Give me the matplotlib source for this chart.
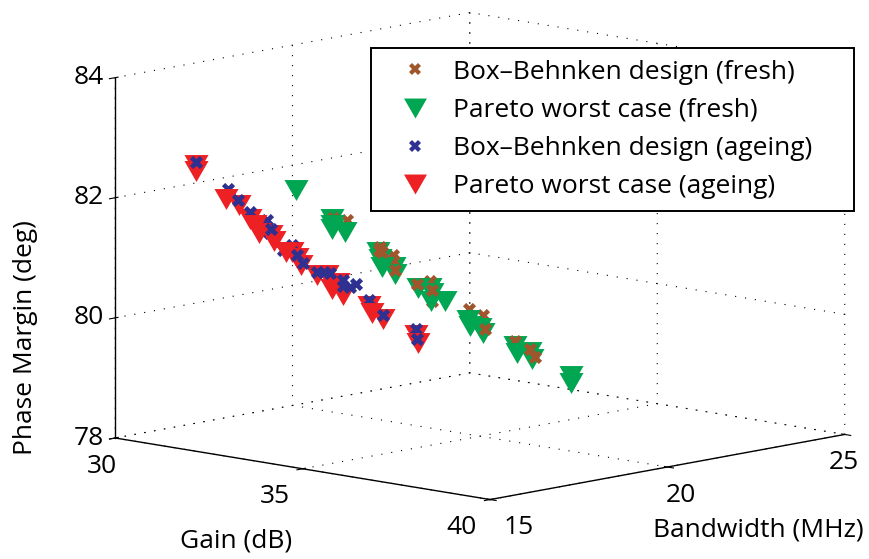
"""Pareto front in 3D: gain, bandwidth and phase margin, fresh vs ageing"""

import numpy as np
import matplotlib
matplotlib.use('Agg')
import matplotlib.pyplot as plt

plt.rcParams['font.family'] = ['Open Sans', 'DejaVu Sans']
plt.rcParams['grid.linestyle'] = (0, (1, 8))
plt.rcParams['grid.color'] = 'black'
plt.rcParams['grid.linewidth'] = 0.8

# bandwidth can't be read from one projection, so each group sits at one estimated depth
bw_fresh = 19.0
bw_ageing = 17.0

# === Pareto worst case (fresh) ===
gain_pareto_fresh_back = [31.99, 33.23, 33.66, 34.61, 36.89]
pm_pareto_fresh_back = [81.41, 80.99, 80.79, 80.54, 79.80]
gain_pareto_fresh = [31.04, 31.99, 32.01, 32.35, 33.28, 33.34, 33.69, 34.30, 34.66, 34.64,
                     35.01, 35.62, 35.68, 35.95, 36.03, 36.94, 37.28, 37.33, 38.38, 38.37]
pm_pareto_fresh = [81.81, 81.25, 81.32, 81.23, 80.88, 80.76, 80.68, 80.50, 80.45, 80.32,
                   80.36, 80.10, 80.01, 80.01, 79.93, 79.70, 79.74, 79.63, 79.46, 79.34]

# === Box-Behnken design (fresh) ===
gain_bb_fresh_under = [33.28, 33.63, 33.63, 34.61, 34.66, 35.66, 36.03, 36.88, 32.03, 32.39]
pm_bb_fresh_under = [81.09, 80.99, 80.91, 80.66, 80.32, 80.30, 80.23, 79.89, 81.43, 81.44]
gain_bb_fresh_top = [33.26, 33.34, 33.69, 34.27, 34.66, 36.08, 37.28, 37.41]
pm_bb_fresh_top = [81.03, 81.01, 80.74, 80.57, 80.50, 80.00, 79.80, 79.67]

# === Pareto worst case (ageing) ===
gain_pareto_age_back = [31.71, 32.83, 34.89, 36.13]
pm_pareto_age_back = [81.61, 81.17, 80.48, 80.12]
gain_pareto_age = [30.27, 30.27, 31.07, 31.41, 31.84, 31.95, 32.26, 32.35, 32.66, 32.95,
                   33.06, 33.49, 33.75, 34.06, 33.89, 34.19, 34.95, 35.26, 36.19]
pm_pareto_age = [82.36, 82.25, 81.88, 81.80, 81.51, 81.39, 81.40, 81.30, 81.16, 81.09,
                 80.98, 80.85, 80.88, 80.78, 80.66, 80.59, 80.38, 80.31, 80.00]

# === Box-Behnken design (ageing) ===
gain_bb_age_under = [31.13, 31.71, 32.15, 32.05, 32.83, 32.59, 34.89, 36.13]
pm_bb_age_under = [82.05, 81.72, 81.63, 81.40, 81.29, 81.18, 80.59, 80.22]
gain_bb_age_top = [30.27, 31.39, 32.26, 32.95, 33.11, 33.49, 33.68, 33.84, 34.19, 34.19,
                   34.37, 34.53, 35.26, 36.17]
pm_bb_age_top = [82.40, 81.88, 81.50, 81.13, 81.02, 80.90, 80.93, 80.92, 80.84, 80.74,
                 80.75, 80.81, 80.37, 80.06]

gain_ticks = [30, 35, 40]
bw_ticks = [15, 20, 25]
pm_ticks = [78, 80, 82, 84]

BROWN = '#A0562C'
GREEN = '#00A651'
BLUE = '#2E3192'
RED = '#ED2024'
TRI = [(-1, 0.87), (1, 0.87), (0, -0.87)]
S_TRI = 300
S_X = 90
FS = 19

W, H = 870, 559
fig = plt.figure(figsize=(W / 100, H / 100), dpi=100)
ax = fig.add_axes([33.2 / W, -143.8 / H, 1.0, 870 / H], projection='3d', proj_type='ortho')
ax.computed_zorder = False
ax.view_init(elev=10, azim=-46.6)
ax.set_box_aspect((1, 1, 0.709), zoom=0.911)
ax.set_xlim(30, 40, view_margin=0)
ax.set_ylim(15, 25, view_margin=0)
ax.set_zlim(78, 84, view_margin=0)
ax.set_xticks(gain_ticks)
ax.set_yticks(bw_ticks)
ax.set_zticks(pm_ticks)
ax.tick_params(labelsize=FS)
ax.tick_params(axis='x', pad=4)
ax.tick_params(axis='y', pad=4)
ax.tick_params(axis='z', pad=-3)
ax.zaxis.set_ticks_position('lower')
for axis in (ax.xaxis, ax.yaxis, ax.zaxis):
    axis.set_pane_color((1, 1, 1, 0))
    axis.pane.set_edgecolor('none')
    axis.line.set_linewidth(1.0)
    axis.line.set_color('black')

# labels don't sit at one fixed offset from their ticks in the original
for t, ha in zip(ax.xaxis.get_major_ticks(), ['center', 'right', 'right']):
    t.label1.set_ha(ha)
for t, ha in zip(ax.yaxis.get_major_ticks(), ['left', 'center', 'right']):
    t.label1.set_ha(ha)
for t in ax.zaxis.get_major_ticks():
    t.label1.set_ha('right')
    t.label1.set_va('center')


def pts(gain, pm, bw, color, marker, size, z):
    return ax.scatter(gain, np.full(len(gain), bw), pm, c=color, marker=marker, s=size,
                      linewidths=0, depthshade=False, zorder=z)


pts(gain_pareto_fresh_back, pm_pareto_fresh_back, bw_fresh, GREEN, TRI, S_TRI, 3)
pts(gain_bb_fresh_under, pm_bb_fresh_under, bw_fresh, BROWN, 'X', S_X, 4)
pts(gain_pareto_fresh, pm_pareto_fresh, bw_fresh, GREEN, TRI, S_TRI, 5)
pts(gain_bb_fresh_top, pm_bb_fresh_top, bw_fresh, BROWN, 'X', S_X, 6)
pts(gain_pareto_age_back, pm_pareto_age_back, bw_ageing, RED, TRI, S_TRI, 7)
pts(gain_bb_age_under, pm_bb_age_under, bw_ageing, BLUE, 'X', S_X, 8)
pts(gain_pareto_age, pm_pareto_age, bw_ageing, RED, TRI, S_TRI, 9)
pts(gain_bb_age_top, pm_bb_age_top, bw_ageing, BLUE, 'X', S_X, 10)

handles = [
    plt.Line2D([], [], ls='', marker='X', ms=8, mew=0, color=BROWN),
    plt.Line2D([], [], ls='', marker=TRI, ms=16.5, mew=0, color=GREEN),
    plt.Line2D([], [], ls='', marker='X', ms=8, mew=0, color=BLUE),
    plt.Line2D([], [], ls='', marker=TRI, ms=16.5, mew=0, color=RED),
]
labels = ['Box\u2013Behnken design (fresh)', 'Pareto worst case (fresh)',
          'Box\u2013Behnken design (ageing)', 'Pareto worst case (ageing)']
leg = fig.legend(handles, labels, loc='lower left', mode='expand', ncols=1,
                 bbox_to_anchor=(371 / W, (H - 211) / H, 483 / W, 162 / H), borderaxespad=0,
                 fontsize=FS, fancybox=False, framealpha=1, edgecolor='black',
                 handlelength=2.46, handletextpad=0.2, labelspacing=0.5, borderpad=0.45)
leg.get_frame().set_linewidth(1.4)

fig.text(236 / W, 1 - 541 / H, 'Gain (dB)', ha='center', va='center', fontsize=FS)
fig.text(758 / W, 1 - 530 / H, 'Bandwidth (MHz)', ha='center', va='center', fontsize=FS)
fig.text(26 / W, 1 - 338 / H, 'Phase Margin (deg)', ha='center', va='center',
         rotation=90, fontsize=FS)

fig.savefig('out.png', dpi=100)
